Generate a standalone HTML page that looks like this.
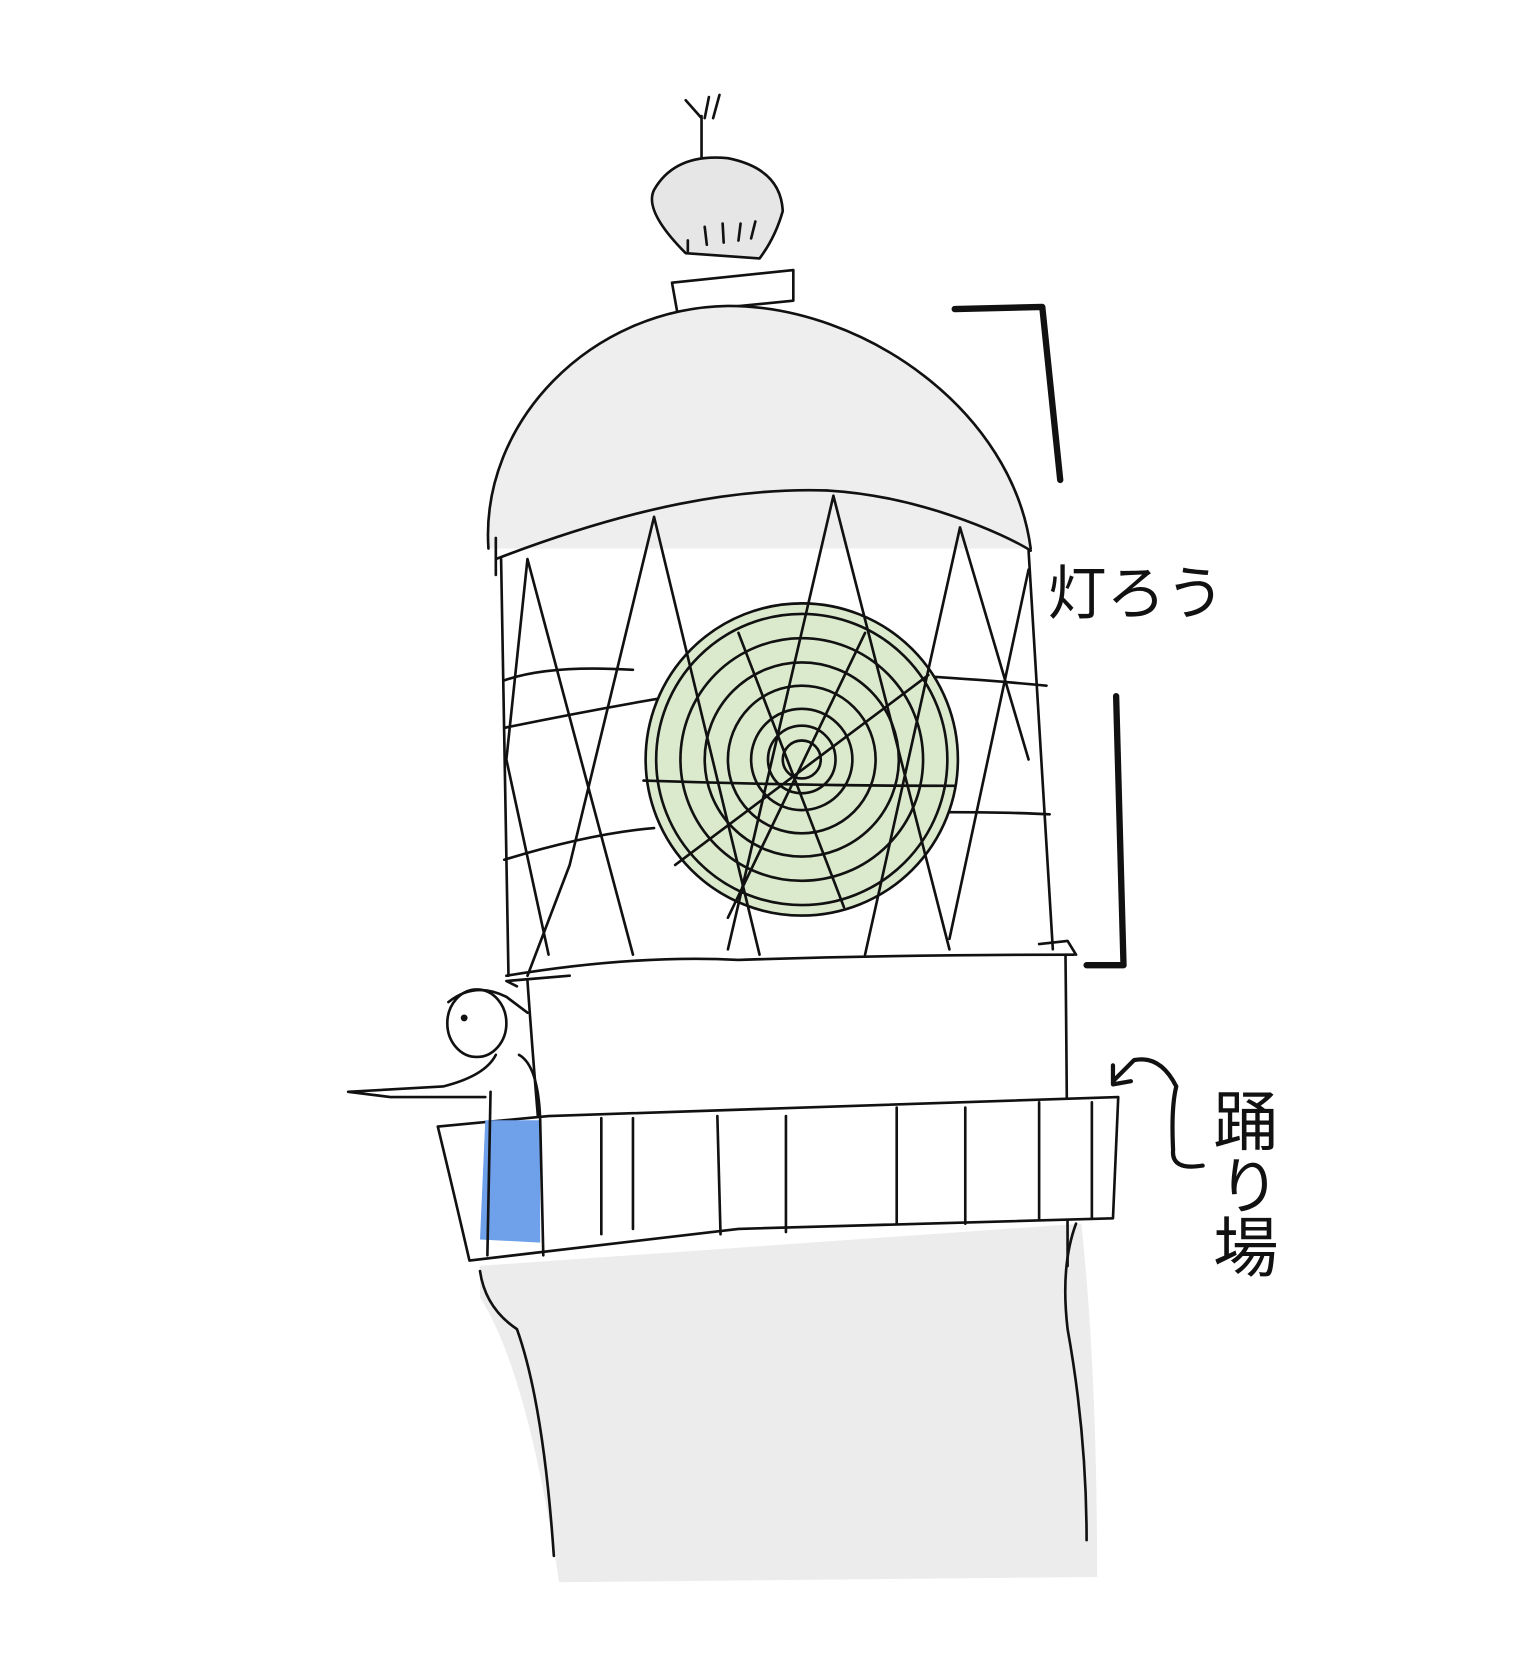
<!DOCTYPE html>
<html><head><meta charset="utf-8"><style>
html,body{margin:0;padding:0;background:#fff;}
svg{display:block;}
text{font-family:"Liberation Sans","Noto Sans CJK JP",sans-serif;fill:#111;}
</style></head><body>
<svg width="1536" height="1654" viewBox="0 0 1456 1568" preserveAspectRatio="none" xmlns="http://www.w3.org/2000/svg">
<g fill="none" stroke="#111" stroke-width="2.5" stroke-linecap="round" stroke-linejoin="round">
<path d="M455,1200 L1025,1160 Q1040,1300 1040,1495 L530,1500 Q500,1300 455,1230 Z" fill="#ececec" stroke="none"/>
<path d="M455,1205 Q460,1240 490,1260 Q515,1330 525,1475"/>
<path d="M1020,1160 Q1005,1200 1012,1260 Q1030,1360 1030,1460"/>
<path d="M665,150 L665,110 M665,112 L650,95 M668,112 L672,92 M676,112 L682,90"/>
<path d="M650,240 Q610,200 620,180 Q640,145 690,150 Q740,160 742,200 Q735,225 720,245 Z" fill="#e6e6e6"/>
<path d="M652,228 L652,238 M668,215 L670,232 M685,212 L686,230 M702,212 L700,228 M716,210 L712,226"/>
<path d="M637,268 L752,256 L752,285 L642,296 Z" fill="#fff"/>
<path d="M463,520 C455,400 560,292 690,290 C820,290 960,390 977,520" fill="#eeeeee"/>
<path d="M470,530 C600,480 700,462 785,465 C870,470 950,505 977,522"/>
<path d="M470,510 L470,545"/>
<path d="M475,530 Q478,720 482,925"/>
<path d="M975,522 Q985,700 998,900"/>
<path d="M480,925 Q600,905 700,910 Q850,905 1018,905"/>
<path d="M985,895 L1012,892 L1020,905"/>
<path d="M478,690 Q600,665 700,650 M860,640 Q940,645 992,650"/>
<path d="M478,815 Q560,790 620,785 M900,770 Q960,770 995,772"/>
<path d="M478,645 Q520,630 600,635"/>
<circle cx="760" cy="720" r="148" fill="#dbeacd"/>
<circle cx="760" cy="720" r="138"/>
<circle cx="760" cy="720" r="115"/>
<circle cx="760" cy="720" r="92"/>
<circle cx="760" cy="720" r="70"/>
<circle cx="760" cy="720" r="48"/>
<circle cx="760" cy="720" r="32"/>
<circle cx="760" cy="720" r="18"/>
<path d="M610,740 Q760,745 905,745 M700,600 L800,860 M820,600 L690,870 M640,820 L880,640"/>
<path d="M500,530 L600,905 M500,530 L480,720 M620,490 L540,820 M620,490 L720,905 M790,470 L690,900 M790,470 L900,900 M910,500 L820,905 M910,500 L975,720 M975,540 L900,890 M480,720 L520,905 M540,820 L500,925"/>
<path d="M1010,905 Q1012,1100 1012,1200"/>
<path d="M500,930 Q505,1000 510,1060"/>
<path d="M415,1068 L520,1058 L1060,1040 L1055,1155 L700,1165 L445,1195 Q430,1130 415,1068 Z" fill="#fff"/>
<path d="M570,1060 L570,1170 M600,1060 L600,1165 M680,1058 L683,1170 M745,1058 L745,1168 M850,1050 L850,1160 M915,1050 L915,1160 M985,1045 L985,1155 M1035,1045 L1035,1155"/>
<path d="M460,1062 L455,1175 L512,1178 L512,1062 Z" fill="#6fa0ea" stroke="none"/>
<ellipse cx="452" cy="970" rx="28" ry="32" fill="#fff"/>
<path d="M425,950 Q450,930 480,945 L500,960"/>
<path d="M470,1000 Q460,1020 420,1030 L330,1035 L370,1040 L460,1040 M465,1035 L462,1190 M492,1000 Q510,1010 512,1060 L515,1190 M490,935 L480,930 L540,925"/>
<circle cx="440" cy="965" r="2" fill="#111"/>
<path d="M905,293 L988,291 L1005,455 M1058,660 L1065,915 L1030,915" stroke-width="6"/>
<path d="M1140,1105 Q1110,1110 1112,1090 Q1110,1050 1115,1030 Q1100,1000 1075,1005 L1055,1025 M1055,1010 L1055,1028 L1072,1025" stroke-width="4"/>
</g>
<text x="993" y="582" font-size="56">灯ろう</text>
<text x="1150" y="1085" font-size="62">踊</text>
<text x="1155" y="1145" font-size="58">り</text>
<text x="1150" y="1205" font-size="62">場</text>
</svg>
</body></html>
